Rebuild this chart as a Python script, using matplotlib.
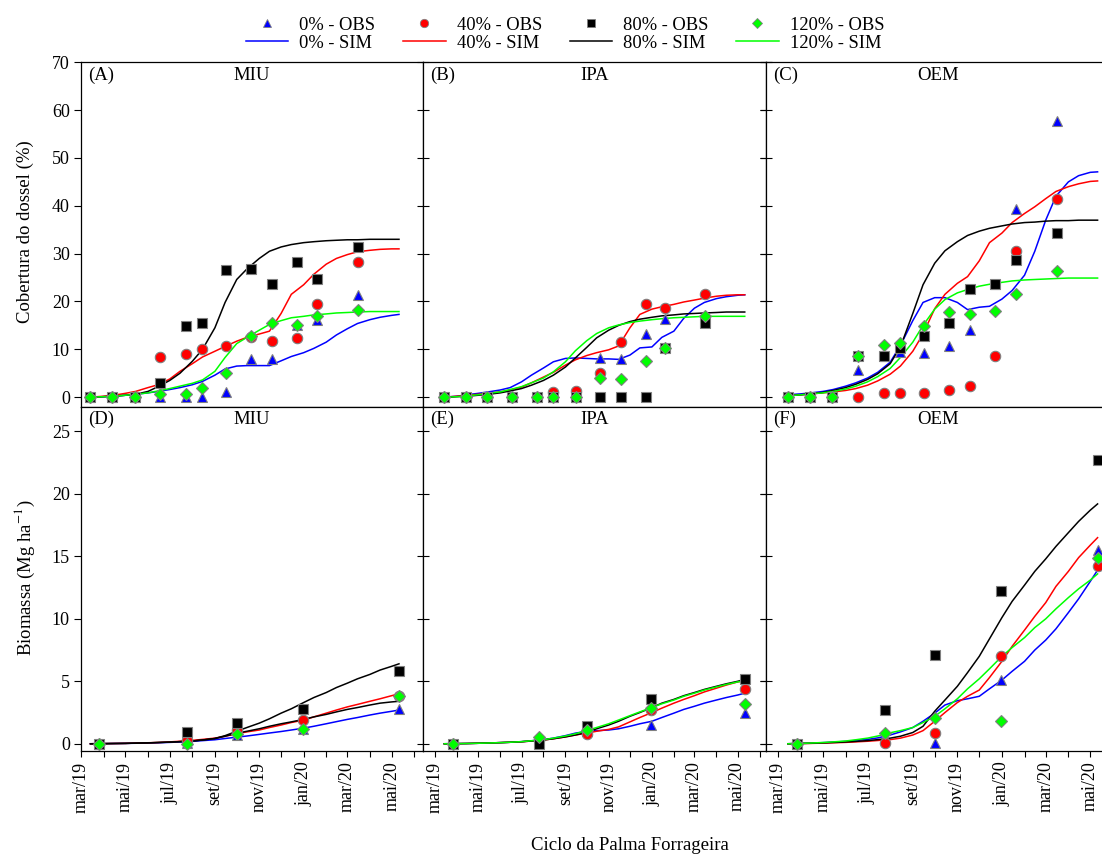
import matplotlib.pyplot as plt
import matplotlib.dates as mdates
import matplotlib.ticker as mticker
import pandas as pd
from matplotlib.lines import Line2D

plt.rcParams['font.family'] = ['Liberation Serif', 'DejaVu Serif']
plt.rcParams['mathtext.fontset'] = 'stix'

# ---- datas ----
meses = ['jan', 'fev', 'mar', 'abr', 'mai', 'jun', 'jul', 'ago', 'set', 'out', 'nov', 'dez']
tratamentos = ['0%', '40%', '80%', '120%']

datas_cob = ['2019-03-14', '2019-04-13', '2019-05-14', '2019-06-18', '2019-07-23', '2019-08-14',
             '2019-09-16', '2019-10-20', '2019-11-18', '2019-12-23', '2020-01-20', '2020-03-16']
datas_bio = ['2019-03-26', '2019-07-25', '2019-10-01', '2019-12-31', '2020-05-11']
datas_sim = ['2019-03-14', '2019-04-01', '2019-04-15', '2019-05-01', '2019-05-15', '2019-06-01',
             '2019-06-15', '2019-07-01', '2019-07-15', '2019-08-01', '2019-08-15', '2019-09-01',
             '2019-09-15', '2019-10-01', '2019-10-15', '2019-11-01', '2019-11-15', '2019-12-01',
             '2019-12-15', '2020-01-01', '2020-01-15', '2020-02-01', '2020-02-15', '2020-03-01',
             '2020-03-15', '2020-04-01', '2020-04-15', '2020-05-01', '2020-05-11']

# ---- cobertura do dossel (%) - observado ----
miu_cob_obs_0 = [0, 0, 0, 0, 0, 0, 1.0, 8.0, 8.0, 15.0, 16.2, 21.3]
miu_cob_obs_40 = [0, 0, 0, 8.4, 9.1, 10.1, 10.6, 12.5, 11.7, 12.4, 19.5, 28.2]
miu_cob_obs_80 = [0, 0, 0, 3.0, 14.8, 15.4, 26.5, 26.7, 23.7, 28.3, 24.7, 31.3]
miu_cob_obs_120 = [0, 0, 0, 0.7, 0.7, 1.9, 5.1, 12.8, 15.5, 15.1, 17.0, 18.3]

ipa_cob_obs_0 = [0, 0, 0, 0, 0, 0, 0, 8.2, 8.0, 13.3, 16.4, 17.0]
ipa_cob_obs_40 = [0, 0, 0, 0, 0, 1.0, 1.2, 5.0, 11.5, 19.4, 18.6, 21.5]
ipa_cob_obs_80 = [0, 0, 0, 0, 0, 0, 0, 0, 0, 0, 10.2, 15.4]
ipa_cob_obs_120 = [0, 0, 0, 0, 0, 0, 0, 4.0, 3.7, 7.5, 10.3, 17.0]

oem_cob_obs_0 = [0, 0, 0, 5.6, 8.7, 9.4, 9.2, 10.8, 14.0, 23.7, 39.3, 57.8]
oem_cob_obs_40 = [0, 0, 0, 0, 0.9, 0.9, 0.9, 1.4, 2.4, 8.7, 30.6, 41.5]
oem_cob_obs_80 = [0, 0, 0, 8.7, 8.7, 10.3, 12.8, 15.5, 22.7, 23.7, 28.6, 34.3]
oem_cob_obs_120 = [0, 0, 0, 8.7, 11.0, 11.4, 14.9, 17.8, 17.3, 18.1, 21.5, 26.4]

# ---- cobertura do dossel (%) - simulado ----
miu_cob_sim_0 = [0, 0.1, 0.2, 0.4, 0.6, 0.9, 1.2, 1.6, 2.0, 2.6, 3.3, 4.6, 5.9, 6.5, 6.6, 6.6, 6.6,
                 7.6, 8.5, 9.3, 10.2, 11.5, 13.0, 14.3, 15.4, 16.2, 16.7, 17.1, 17.3]
miu_cob_sim_40 = [0, 0.2, 0.4, 0.8, 1.2, 2.0, 2.6, 3.8, 5.4, 7.0, 8.4, 9.6, 10.6, 11.7, 12.5, 13.2,
                  13.8, 17.5, 21.5, 23.5, 25.7, 27.8, 29.0, 29.8, 30.4, 30.7, 30.9, 31.0, 31.0]
miu_cob_sim_80 = [0, 0.1, 0.2, 0.4, 0.6, 1.2, 2.2, 3.5, 5.0, 7.5, 10.0, 14.5, 19.8, 24.6, 26.8, 29.0,
                  30.5, 31.4, 31.9, 32.3, 32.5, 32.7, 32.8, 32.9, 32.9, 33.0, 33.0, 33.0, 33.0]
miu_cob_sim_120 = [0, 0.1, 0.2, 0.4, 0.6, 0.9, 1.3, 1.8, 2.3, 2.9, 3.6, 5.4, 8.3, 11.2, 12.5, 14.0,
                   15.2, 16.0, 16.6, 16.9, 17.2, 17.4, 17.6, 17.7, 17.8, 17.9, 17.9, 17.9, 17.9]

ipa_cob_sim_0 = [0, 0.2, 0.5, 0.8, 1.1, 1.5, 2.0, 3.2, 4.6, 6.1, 7.4, 8.1, 8.2, 8.1, 8.0, 8.0, 7.9,
                 8.8, 10.3, 10.5, 12.5, 13.8, 16.5, 18.6, 19.8, 20.6, 21.0, 21.3, 21.4]
ipa_cob_sim_40 = [0, 0.2, 0.4, 0.6, 0.8, 1.1, 1.5, 2.1, 3.0, 4.2, 5.2, 6.7, 7.8, 8.7, 9.3, 9.9, 10.7,
                  14.5, 17.3, 18.4, 18.9, 19.4, 19.9, 20.3, 20.7, 21.1, 21.3, 21.4, 21.4]
ipa_cob_sim_80 = [0, 0.1, 0.2, 0.4, 0.6, 0.9, 1.3, 1.8, 2.5, 3.5, 4.6, 6.3, 8.2, 10.4, 12.4, 14.0,
                  15.0, 15.8, 16.3, 16.7, 17.0, 17.2, 17.4, 17.5, 17.6, 17.7, 17.8, 17.8, 17.8]
ipa_cob_sim_120 = [0, 0.1, 0.3, 0.5, 0.8, 1.1, 1.6, 2.2, 3.0, 4.0, 5.3, 7.4, 9.7, 11.8, 13.3, 14.5,
                   15.1, 15.6, 15.9, 16.2, 16.4, 16.6, 16.7, 16.8, 16.9, 16.9, 16.9, 16.9, 16.9]

oem_cob_sim_0 = [0.5, 0.7, 0.9, 1.2, 1.6, 2.3, 3.0, 4.0, 5.2, 7.3, 10.8, 16.0, 19.8, 20.8, 20.8, 19.8,
                 18.3, 18.8, 19.0, 20.5, 22.3, 25.5, 30.5, 37.0, 42.0, 45.0, 46.3, 47.0, 47.1]
oem_cob_sim_40 = [0.3, 0.5, 0.7, 0.9, 1.1, 1.4, 1.8, 2.5, 3.4, 4.8, 6.5, 9.6, 13.2, 18.5, 21.5, 23.8,
                  25.2, 28.5, 32.3, 34.3, 36.5, 38.4, 39.8, 41.5, 43.0, 44.0, 44.6, 45.1, 45.2]
oem_cob_sim_80 = [0.3, 0.5, 0.7, 1.0, 1.4, 2.0, 2.7, 3.7, 4.9, 7.0, 10.5, 17.5, 23.5, 28.0, 30.6, 32.5,
                  33.8, 34.7, 35.3, 35.8, 36.2, 36.5, 36.6, 36.8, 36.9, 36.9, 37.0, 37.0, 37.0]
oem_cob_sim_120 = [0.3, 0.5, 0.7, 0.9, 1.2, 1.7, 2.3, 3.2, 4.3, 6.0, 8.3, 11.5, 15.0, 18.4, 20.4, 21.8,
                   22.5, 23.2, 23.6, 24.0, 24.3, 24.5, 24.6, 24.7, 24.8, 24.9, 24.9, 24.9, 24.9]

# ---- biomassa (Mg ha-1) - observado ----
miu_bio_obs_0 = [0, 0.1, 0.7, 1.2, 2.8]
miu_bio_obs_40 = [0, 0.3, 1.1, 1.87, 3.84]
miu_bio_obs_80 = [0, 0.93, 1.65, 2.8, 5.8]
miu_bio_obs_120 = [0, 0, 0.77, 1.2, 3.84]

ipa_bio_obs_0 = [0, 0.4, 1.0, 1.5, 2.45]
ipa_bio_obs_40 = [0, 0.3, 0.77, 2.7, 4.4]
ipa_bio_obs_80 = [0, 0, 1.4, 3.6, 5.2]
ipa_bio_obs_120 = [0, 0.53, 1.1, 2.9, 3.2]

oem_bio_obs_0 = [0, 0.5, 0.05, 5.1, 15.5]
oem_bio_obs_40 = [0, 0.05, 0.85, 7.0, 14.2]
oem_bio_obs_80 = [0, 2.7, 7.1, 12.2, 22.7]
oem_bio_obs_120 = [0, 0.85, 2.1, 1.8, 14.9]

# ---- biomassa (Mg ha-1) - simulado ----
miu_bio_sim_0 = [0, 0.01, 0.02, 0.03, 0.04, 0.06, 0.08, 0.11, 0.14, 0.19, 0.25, 0.32, 0.42, 0.53, 0.62,
                 0.75, 0.86, 0.98, 1.1, 1.25, 1.4, 1.6, 1.77, 1.95, 2.1, 2.3, 2.45, 2.6, 2.7]
miu_bio_sim_40 = [0, 0.01, 0.02, 0.03, 0.05, 0.08, 0.1, 0.15, 0.2, 0.27, 0.35, 0.45, 0.6, 0.8, 0.95,
                  1.1, 1.3, 1.5, 1.7, 1.9, 2.15, 2.45, 2.7, 2.95, 3.15, 3.4, 3.6, 3.85, 4.0]
miu_bio_sim_80 = [0, 0.01, 0.02, 0.03, 0.05, 0.07, 0.1, 0.13, 0.17, 0.22, 0.3, 0.42, 0.65, 1.0, 1.3,
                  1.65, 2.0, 2.45, 2.8, 3.3, 3.7, 4.1, 4.5, 4.85, 5.2, 5.55, 5.9, 6.2, 6.4]
miu_bio_sim_120 = [0, 0.01, 0.02, 0.03, 0.05, 0.07, 0.1, 0.13, 0.17, 0.22, 0.3, 0.42, 0.6, 0.85, 1.0,
                   1.2, 1.4, 1.6, 1.75, 1.95, 2.15, 2.35, 2.55, 2.75, 2.9, 3.1, 3.25, 3.35, 3.4]

ipa_bio_sim_0 = [0, 0.01, 0.02, 0.04, 0.06, 0.09, 0.12, 0.17, 0.24, 0.33, 0.45, 0.65, 0.85, 1.0, 1.05,
                 1.1, 1.2, 1.4, 1.6, 1.8, 2.1, 2.45, 2.75, 3.0, 3.25, 3.5, 3.7, 3.9, 4.05]
ipa_bio_sim_40 = [0, 0.01, 0.02, 0.04, 0.06, 0.09, 0.12, 0.16, 0.22, 0.3, 0.4, 0.55, 0.7, 0.85, 1.0,
                  1.15, 1.35, 1.75, 2.1, 2.5, 2.85, 3.25, 3.55, 3.85, 4.15, 4.45, 4.7, 4.95, 5.05]
ipa_bio_sim_80 = [0, 0.01, 0.02, 0.04, 0.06, 0.09, 0.12, 0.16, 0.22, 0.3, 0.4, 0.55, 0.7, 0.9, 1.2,
                  1.5, 1.8, 2.2, 2.5, 2.9, 3.25, 3.55, 3.85, 4.1, 4.35, 4.6, 4.8, 5.0, 5.15]
ipa_bio_sim_120 = [0, 0.01, 0.02, 0.04, 0.06, 0.09, 0.12, 0.17, 0.24, 0.32, 0.45, 0.62, 0.8, 1.05, 1.3,
                   1.6, 1.9, 2.25, 2.55, 2.9, 3.2, 3.5, 3.8, 4.05, 4.3, 4.55, 4.75, 4.95, 5.05]

oem_bio_sim_0 = [0, 0.03, 0.05, 0.09, 0.13, 0.19, 0.26, 0.35, 0.47, 0.7, 0.95, 1.3, 1.8, 2.45, 3.1,
                 3.45, 3.6, 3.8, 4.4, 5.1, 5.8, 6.6, 7.5, 8.3, 9.2, 10.5, 11.6, 13.0, 13.9]
oem_bio_sim_40 = [0, 0.02, 0.03, 0.05, 0.08, 0.11, 0.15, 0.2, 0.26, 0.33, 0.45, 0.7, 1.05, 1.8, 2.5,
                  3.3, 3.8, 4.3, 5.3, 6.6, 7.8, 9.1, 10.2, 11.3, 12.6, 13.8, 14.9, 15.9, 16.5]
oem_bio_sim_80 = [0, 0.02, 0.04, 0.07, 0.1, 0.14, 0.19, 0.25, 0.33, 0.45, 0.6, 0.9, 1.4, 2.6, 3.5,
                  4.6, 5.7, 7.0, 8.4, 10.1, 11.4, 12.7, 13.8, 14.8, 15.8, 16.9, 17.8, 18.7, 19.2]
oem_bio_sim_120 = [0, 0.03, 0.06, 0.1, 0.15, 0.22, 0.32, 0.45, 0.62, 0.88, 1.05, 1.3, 1.7, 2.2, 2.8,
                   3.6, 4.4, 5.2, 6.0, 7.0, 7.7, 8.5, 9.3, 10.0, 10.8, 11.7, 12.4, 13.1, 13.6]

# ---- estilo ----
cores = ['#0000ff', '#ff0000', '#000000', '#00ff00']
marcadores = ['^', 'o', 's', 'D']
tam_marc = [7.5, 7.5, 6.5, 6.3]

W, H = 1102, 859
fig = plt.figure(figsize=(W / 100, H / 100), dpi=100)


def px_box(x0, x1, y0, y1):
    return [x0 / W, 1 - y1 / H, (x1 - x0) / W, (y1 - y0) / H]


paineis = [
    # rótulo, local, obs, sim, datas obs, caixa, xlim, ylim, tipo
    ('(A)', 'MIU', [miu_cob_obs_0, miu_cob_obs_40, miu_cob_obs_80, miu_cob_obs_120],
     [miu_cob_sim_0, miu_cob_sim_40, miu_cob_sim_80, miu_cob_sim_120], datas_cob,
     (81, 423, 62.3, 406.5), ('2019-03-01', '2020-06-13'), (-1.95, 70), 'cob'),
    ('(B)', 'IPA', [ipa_cob_obs_0, ipa_cob_obs_40, ipa_cob_obs_80, ipa_cob_obs_120],
     [ipa_cob_sim_0, ipa_cob_sim_40, ipa_cob_sim_80, ipa_cob_sim_120], datas_cob,
     (423, 766, 62.3, 406.5), ('2019-02-12', '2020-06-10'), (-1.95, 70), 'cob'),
    ('(C)', 'OEM', [oem_cob_obs_0, oem_cob_obs_40, oem_cob_obs_80, oem_cob_obs_120],
     [oem_cob_sim_0, oem_cob_sim_40, oem_cob_sim_80, oem_cob_sim_120], datas_cob,
     (766, 1110, 62.3, 406.5), ('2019-02-12', '2020-05-28'), (-1.95, 70), 'cob'),
    ('(D)', 'MIU', [miu_bio_obs_0, miu_bio_obs_40, miu_bio_obs_80, miu_bio_obs_120],
     [miu_bio_sim_0, miu_bio_sim_40, miu_bio_sim_80, miu_bio_sim_120], datas_bio,
     (81, 423, 406.5, 750.5), ('2019-03-01', '2020-06-13'), (-0.54, 27), 'bio'),
    ('(E)', 'IPA', [ipa_bio_obs_0, ipa_bio_obs_40, ipa_bio_obs_80, ipa_bio_obs_120],
     [ipa_bio_sim_0, ipa_bio_sim_40, ipa_bio_sim_80, ipa_bio_sim_120], datas_bio,
     (423, 766, 406.5, 750.5), ('2019-02-12', '2020-06-10'), (-0.54, 27), 'bio'),
    ('(F)', 'OEM', [oem_bio_obs_0, oem_bio_obs_40, oem_bio_obs_80, oem_bio_obs_120],
     [oem_bio_sim_0, oem_bio_sim_40, oem_bio_sim_80, oem_bio_sim_120], datas_bio,
     (766, 1110, 406.5, 750.5), ('2019-02-12', '2020-05-28'), (-0.54, 27), 'bio'),
]

t_sim = pd.to_datetime(datas_sim)


def fmt_mes(x, pos):
    d = mdates.num2date(x)
    return f'{meses[d.month - 1]}/{d.year % 100:02d}'


for i, (rot, local, obs, sim, dts, caixa, xl, yl, tipo) in enumerate(paineis):
    ax = fig.add_axes(px_box(*caixa))
    t_obs = pd.to_datetime(dts)
    for k in range(4):
        cor_linha = cores[k]
        if rot == '(D)' and k == 3:
            cor_linha = '#000000'   # no original a linha 120% em (D) aparece preta
        ax.plot(t_sim, sim[k], color=cor_linha, lw=1.1, zorder=2)
    for k in range(4):
        ax.plot(t_obs, obs[k], ls='none', marker=marcadores[k], ms=tam_marc[k],
                mfc=cores[k], mec='#808080', mew=0.8, zorder=3 + k, clip_on=False)

    ax.set_xlim(pd.Timestamp(xl[0]), pd.Timestamp(xl[1]))
    ax.set_ylim(*yl)
    for s in ax.spines.values():
        s.set_linewidth(0.9)

    if tipo == 'cob':
        ax.yaxis.set_major_locator(mticker.MultipleLocator(10))
        ax.set_xticks([])
    else:
        ax.yaxis.set_major_locator(mticker.MultipleLocator(5))
        ax.xaxis.set_major_locator(mdates.MonthLocator(bymonth=[1, 3, 5, 7, 9, 11]))
        ax.xaxis.set_minor_locator(mdates.MonthLocator())
        ax.xaxis.set_major_formatter(mticker.FuncFormatter(fmt_mes))
        ax.tick_params(axis='x', which='both', direction='out', length=4, width=0.8,
                       labelsize=13, rotation=90, pad=4)

    if i % 3 == 0:
        ax.tick_params(axis='y', direction='out', length=5, width=0.8, labelsize=13, pad=3)
    else:
        ax.tick_params(axis='y', which='both', direction='inout', length=9, width=0.8,
                       left=True, right=True, labelleft=False)

    ax.text(0.02, 0.962, rot, transform=ax.transAxes, ha='left', va='center', fontsize=13.5)
    ax.text(0.5, 0.962, local, transform=ax.transAxes, ha='center', va='center', fontsize=13.5)

fig.text(25 / W, 1 - 232 / H, 'Cobertura do dossel (%)', rotation=90, ha='center', va='center',
         fontsize=13.5)
fig.text(25 / W, 1 - 578 / H, 'Biomassa (Mg ha$^{-1}$)', rotation=90, ha='center', va='center',
         fontsize=13.5)
fig.text(630 / W, 1 - 846 / H, 'Ciclo da Palma Forrageira', ha='center', va='center', fontsize=13.5)

# legenda
handles, labels = [], []
for k in range(4):
    handles.append(Line2D([], [], ls='none', marker=marcadores[k], ms=tam_marc[k] * 0.8,
                          mfc=cores[k], mec='#808080', mew=0.6))
    labels.append(f'{tratamentos[k]} - OBS')
    handles.append(Line2D([], [], color=cores[k], lw=1.1))
    labels.append(f'{tratamentos[k]} - SIM')
fig.legend(handles, labels, ncol=4, loc='upper center', bbox_to_anchor=(565 / W, 1 - 4 / H),
           frameon=False, fontsize=13.3, handlelength=2.3, handletextpad=0.6, columnspacing=1.5,
           labelspacing=0.05, borderpad=0.2)

fig.savefig('out.png', dpi=100)
